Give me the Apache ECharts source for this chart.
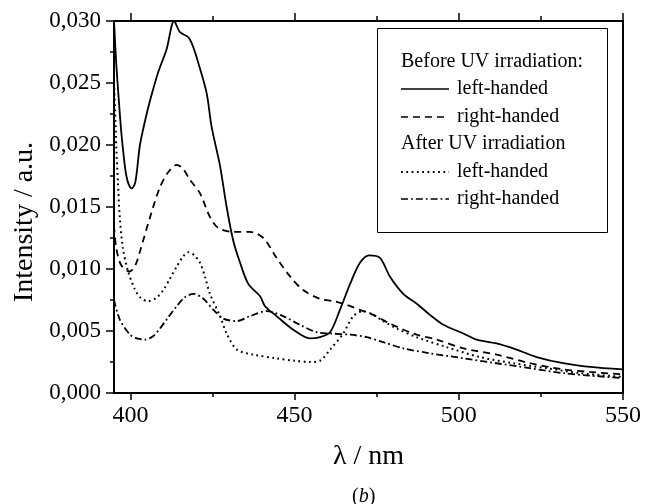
<!DOCTYPE html>
<html>
<head>
<meta charset="utf-8">
<script src="https://cdn.jsdelivr.net/npm/echarts@6/dist/echarts.min.js"></script>
<style>
html,body{margin:0;padding:0;background:#fff;}
#chart{width:645px;height:504px;}
</style>
</head>
<body>
<div id="chart"></div>
<script>
// ---- data (wavelength in nm, intensity in a.u.) ----
var beforeLeftX  = [395.0,395.7,396.5,397.2,398.0,398.7,399.5,400.4,401.5,402.9,404.5,406.0,408.5,411.0,413.3,415.1,417.6,419.0,420.7,423.2,424.7,427.3,429.3,431.3,433.4,435.9,439.5,441.0,444.5,449.6,454.7,457.7,460.8,463.8,466.9,469.9,472.7,476.0,479.0,483.1,487.2,491.2,495.3,501.4,505.4,511.5,517.6,523.7,531.8,540.0,550.0];
var beforeLeftY  = [0.0300,0.0265,0.0235,0.0211,0.0190,0.0176,0.0168,0.0165,0.0170,0.0200,0.0220,0.0236,0.0259,0.0277,0.0300,0.0291,0.0287,0.0280,0.0266,0.0242,0.0215,0.0183,0.0150,0.0123,0.0105,0.0088,0.0078,0.0070,0.0062,0.0051,0.0044,0.0045,0.0049,0.0067,0.0088,0.0105,0.0111,0.0109,0.0094,0.0080,0.0072,0.0063,0.0055,0.0048,0.0043,0.0040,0.0035,0.0029,0.0024,0.0021,0.0019];

var beforeRightX = [395.0,395.7,397.2,399.8,401.5,403.0,406.0,409.0,411.5,414.1,416.0,418.1,421.2,424.2,426.8,431.3,436.4,440.5,444.5,448.6,452.6,457.7,462.0,465.9,469.9,474.0,479.0,486.1,493.3,501.4,511.5,521.7,531.8,540.0,550.0];
var beforeRightY = [0.0135,0.0117,0.0103,0.0098,0.0103,0.0115,0.0142,0.0166,0.0178,0.0184,0.0181,0.0172,0.0161,0.0142,0.0133,0.0130,0.0130,0.0125,0.0109,0.0094,0.0083,0.0076,0.0074,0.0071,0.0067,0.0063,0.0056,0.0048,0.0043,0.0036,0.0031,0.0024,0.0019,0.0017,0.0015];

var afterLeftX   = [395.0,395.4,395.7,396.2,396.7,397.7,399.3,401.3,403.0,405.4,408.0,410.0,412.0,414.1,416.0,417.6,419.5,421.2,422.8,424.2,427.3,429.3,432.4,437.4,444.5,450.0,454.7,457.7,460.8,464.8,467.9,470.9,474.0,477.0,481.1,487.2,496.3,506.4,516.6,526.8,536.9,550.0];
var afterLeftY   = [0.0250,0.0224,0.0197,0.0170,0.0144,0.0117,0.0098,0.0084,0.0077,0.0074,0.0077,0.0083,0.0092,0.0102,0.0110,0.01135,0.0111,0.0105,0.0093,0.0080,0.0062,0.0048,0.0035,0.0031,0.0028,0.0026,0.0025,0.0026,0.0035,0.0048,0.0062,0.0066,0.0063,0.0058,0.0052,0.0045,0.0037,0.0029,0.0024,0.0020,0.0016,0.0013];

var afterRightX  = [395.0,396.8,399.9,402.0,404.4,407.0,409.0,411.5,414.1,416.5,419.2,422.2,425.3,428.3,432.4,436.4,441.5,446.5,451.6,456.7,461.0,466.9,472.0,477.0,483.1,491.2,501.4,511.5,521.7,531.8,540.0,550.0];
var afterRightY  = [0.0075,0.0059,0.0047,0.0044,0.0043,0.0046,0.0052,0.0061,0.0070,0.0077,0.0080,0.0076,0.0067,0.0060,0.0058,0.0062,0.0066,0.0062,0.0055,0.0049,0.0048,0.0047,0.0045,0.0041,0.0036,0.0032,0.0028,0.0024,0.0020,0.0016,0.0014,0.0012];

var xMajorTicks = [400, 450, 500, 550];
var xMinorTicks = [425, 475, 525];
var legendHeadings = ['Before UV irradiation:', 'After UV irradiation'];
var legendItems = ['left-handed', 'right-handed', 'left-handed', 'right-handed'];

function zip(xs, ys) { return xs.map(function (x, i) { return [x, ys[i]]; }); }

var FONT = 'Liberation Serif';
var BLACK = '#000';
var dashSolid = 'solid', dashDashed = [7, 5], dashDotted = [1.8, 3.5], dashDashDot = [7, 3, 1.8, 3];

var chart = echarts.init(document.getElementById('chart'));

function xAxisBase(pos, ticks, len, showLine, labels) {
  return {
    type: 'value', position: pos, min: 395, max: 550,
    axisLine: { show: showLine, onZero: false, lineStyle: { color: BLACK, width: 2 } },
    axisTick: { show: true, inside: false, length: len, customValues: ticks, lineStyle: { color: BLACK, width: 1.5 } },
    axisLabel: labels ? { show: true, customValues: xMajorTicks, margin: 11, color: BLACK, fontFamily: FONT, fontSize: 24 } : { show: false },
    splitLine: { show: false }
  };
}

var xMain = xAxisBase('bottom', xMajorTicks, 7, true, true);
xMain.name = 'λ / nm';
xMain.nameLocation = 'middle';
xMain.nameGap = 50;
xMain.nameTextStyle = { color: BLACK, fontFamily: FONT, fontSize: 28 };

var option = {
  backgroundColor: '#fff',
  animation: false,
  title: {
    text: '{p|(}{i|b}{p|)}',
    left: 347, top: 482,
    textStyle: { fontWeight: 'normal', rich: {
      p: { fontFamily: FONT, fontSize: 20, fontWeight: 'normal', color: BLACK },
      i: { fontFamily: FONT, fontSize: 20, fontWeight: 'normal', fontStyle: 'italic', color: BLACK }
    } }
  },
  grid: { left: 114, right: 22, top: 21, bottom: 111, containLabel: false },
  xAxis: [
    xMain,
    xAxisBase('bottom', xMinorTicks, 4, false, false),
    xAxisBase('top', xMajorTicks, 8, true, false),
    xAxisBase('top', xMinorTicks, 5, false, false)
  ],
  yAxis: [
    {
      type: 'value', position: 'left', min: 0, max: 0.03, interval: 0.005,
      name: 'Intensity / a.u.', nameLocation: 'middle', nameGap: 74,
      nameTextStyle: { color: BLACK, fontFamily: FONT, fontSize: 28, padding: [0, 30, 0, 0] },
      axisLine: { show: true, onZero: false, lineStyle: { color: BLACK, width: 2 } },
      axisTick: { show: true, inside: false, length: 8, lineStyle: { color: BLACK, width: 1.5 } },
      minorTick: { show: true, splitNumber: 2, length: 4, lineStyle: { color: BLACK, width: 1.5 } },
      axisLabel: { margin: 13, color: BLACK, fontFamily: FONT, fontSize: 23,
        formatter: function (v) { return v.toFixed(3).replace('.', ','); } },
      splitLine: { show: false }
    },
    {
      type: 'value', position: 'right', min: 0, max: 0.03,
      axisLine: { show: true, onZero: false, lineStyle: { color: BLACK, width: 2 } },
      axisTick: { show: false }, axisLabel: { show: false }, splitLine: { show: false }
    }
  ],
  series: [
    { name: 'Before UV irradiation: left-handed', type: 'line', data: zip(beforeLeftX, beforeLeftY), showSymbol: false, smooth: 0.3,
      lineStyle: { color: BLACK, width: 1.8, type: dashSolid } },
    { name: 'Before UV irradiation: right-handed', type: 'line', data: zip(beforeRightX, beforeRightY), showSymbol: false, smooth: 0.3,
      lineStyle: { color: BLACK, width: 1.8, type: dashDashed } },
    { name: 'After UV irradiation: left-handed', type: 'line', data: zip(afterLeftX, afterLeftY), showSymbol: false, smooth: 0.3,
      lineStyle: { color: BLACK, width: 2, type: dashDotted } },
    { name: 'After UV irradiation: right-handed', type: 'line', data: zip(afterRightX, afterRightY), showSymbol: false, smooth: 0.3,
      lineStyle: { color: BLACK, width: 1.8, type: dashDashDot } }
  ],
  graphic: (function () {
    var els = [];
    els.push({ type: 'rect', left: 377, top: 28, z: 100,
      shape: { width: 230, height: 204 }, style: { fill: '#fff', stroke: BLACK, lineWidth: 1 } });
    var rowY = [62, 89, 117, 144, 172, 199];
    var ts = { fill: BLACK, font: '20px "Liberation Serif"', textVerticalAlign: 'middle' };
    function txt(s, x, y) {
      return { type: 'text', x: x, y: y, z: 101, style: Object.assign({ text: s }, ts) };
    }
    function seg(y, dash, w) {
      return { type: 'line', z: 101, shape: { x1: 401, y1: y, x2: 449, y2: y },
        style: { stroke: BLACK, lineWidth: w, lineDash: dash === 'solid' ? null : dash } };
    }
    els.push(txt(legendHeadings[0], 401, rowY[0]));
    els.push(seg(rowY[1], dashSolid, 1.6));  els.push(txt(legendItems[0], 457, rowY[1]));
    els.push(seg(rowY[2], dashDashed, 1.6)); els.push(txt(legendItems[1], 457, rowY[2]));
    els.push(txt(legendHeadings[1], 401, rowY[3]));
    els.push(seg(rowY[4], dashDotted, 1.8)); els.push(txt(legendItems[2], 457, rowY[4]));
    els.push(seg(rowY[5], dashDashDot, 1.6)); els.push(txt(legendItems[3], 457, rowY[5]));
    return els;
  })()
};
chart.setOption(option);
</script>
</body>
</html>
